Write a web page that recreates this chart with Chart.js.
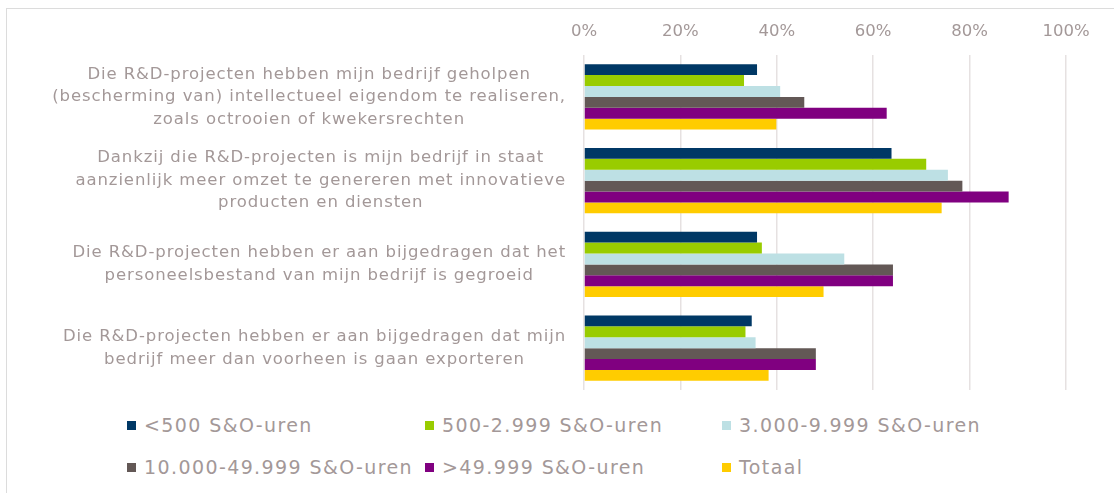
<!DOCTYPE html>
<html>
<head>
<meta charset="utf-8">
<title>R&D-projecten effecten</title>
<script src="https://cdn.jsdelivr.net/npm/chart.js@4"></script>
<style>
  body { margin: 0; background: #fff; font-family: "DejaVu Sans", Verdana, sans-serif; }
  #frame { position: absolute; left: 6px; top: 8px; width: 1120px; height: 500px; border: 1px solid #dcdcdc; box-sizing: border-box; }
  #wrap { position: absolute; left: 0; top: 0; width: 1114px; height: 400px; }
  #legend { position: absolute; left: 0; top: 400px; width: 1114px; height: 93px; }
  .item { position: absolute; display: flex; align-items: center; color: #a39898; font-size: 19px; letter-spacing: 1.4px; white-space: nowrap; }
  .box { width: 9px; height: 9px; margin-right: 8px; }
</style>
</head>
<body>
<div id="frame"></div>
<div id="wrap"><canvas id="chart"></canvas></div>
<div id="legend"></div>
<script>
  const categories = [
    ['Die R&D-projecten hebben mijn bedrijf geholpen', '(bescherming van) intellectueel eigendom te realiseren,', 'zoals octrooien of kwekersrechten'],
    ['Dankzij die R&D-projecten is mijn bedrijf in staat', 'aanzienlijk meer omzet te genereren met innovatieve', 'producten en diensten'],
    ['Die R&D-projecten hebben er aan bijgedragen dat het', 'personeelsbestand van mijn bedrijf is gegroeid'],
    ['Die R&D-projecten hebben er aan bijgedragen dat mijn', 'bedrijf meer dan voorheen is gaan exporteren']
  ];

  const seriesNames = ['<500 S&O-uren', '500-2.999 S&O-uren', '3.000-9.999 S&O-uren', '10.000-49.999 S&O-uren', '>49.999 S&O-uren', 'Totaal'];
  const seriesColors = ['#003865', '#99cc00', '#bde0e4', '#635856', '#800080', '#ffcc00'];

  const under500 = [35.9, 63.8, 35.9, 34.8];
  const from500 = [33.2, 71.0, 36.9, 33.5];
  const from3000 = [40.7, 75.5, 54.0, 35.6];
  const from10000 = [45.7, 78.5, 64.1, 48.1];
  const over49999 = [62.8, 88.1, 64.1, 48.1];
  const totaal = [39.9, 74.2, 49.7, 38.3];

  const xTicks = [0, 20, 40, 60, 80, 100];

  const textColor = '#a39898';
  const values = [under500, from500, from3000, from10000, over49999, totaal];

  // category labels: block right-aligned, each line centred inside its block
  const labelPlugin = {
    id: 'catLabels',
    afterDraw(chart) {
      const ctx = chart.ctx;
      const yScale = chart.scales.y;
      const rightEdge = 566;
      const lineH = 22.5;
      ctx.save();
      ctx.font = '16.5px "DejaVu Sans"';
      ctx.letterSpacing = '0.9px';
      ctx.fillStyle = textColor;
      ctx.textAlign = 'center';
      ctx.textBaseline = 'middle';
      chart.data.labels.forEach((lines, i) => {
        const y = yScale.getPixelForTick(i);
        const w = Math.max(...lines.map(l => ctx.measureText(l).width));
        const cx = rightEdge - w / 2;
        const y0 = y - (lines.length - 1) * lineH / 2;
        lines.forEach((l, j) => ctx.fillText(l, cx, y0 + j * lineH));
      });
      ctx.restore();
    }
  };

  const chart = new Chart(document.getElementById('chart'), {
    type: 'bar',
    data: {
      labels: categories,
      datasets: seriesNames.map((name, i) => ({
        label: name,
        data: values[i],
        backgroundColor: seriesColors[i],
        borderWidth: 0,
        categoryPercentage: 0.78,
        barPercentage: 1.0
      }))
    },
    options: {
      indexAxis: 'y',
      responsive: true,
      maintainAspectRatio: false,
      animation: false,
      layout: { padding: { left: 0, right: 48, top: 0, bottom: 10 } },
      plugins: {
        legend: { display: false },
        tooltip: { enabled: false }
      },
      scales: {
        x: {
          position: 'top',
          min: 0,
          max: 100,
          afterBuildTicks: (scale) => { scale.ticks = xTicks.map(v => ({ value: v })); },
          afterFit: (scale) => { scale.height = 55; },
          ticks: {
            callback: (v) => v + '%',
            color: textColor,
            font: { family: 'DejaVu Sans', size: 16.5 },
            padding: 13
          },
          grid: { color: '#e6e1e1', lineWidth: 1.5, drawTicks: false },
          border: { display: false }
        },
        y: {
          afterFit: (scale) => { scale.width = 584; },
          ticks: { display: false },
          grid: { display: false },
          border: { display: false }
        }
      }
    },
    plugins: [labelPlugin]
  });

  // HTML legend laid out in a 3x2 grid like the original
  const legendEl = document.getElementById('legend');
  const colX = [127, 425, 722];
  const rowY = [25, 67];
  chart.options.plugins.legend.labels.generateLabels(chart).forEach((item, i) => {
    const div = document.createElement('div');
    div.className = 'item';
    div.style.left = colX[i % 3] + 'px';
    div.style.top = (rowY[Math.floor(i / 3)] - 12) + 'px';
    div.style.height = '24px';
    const box = document.createElement('span');
    box.className = 'box';
    box.style.background = item.fillStyle;
    const txt = document.createElement('span');
    txt.textContent = item.text;
    div.appendChild(box);
    div.appendChild(txt);
    legendEl.appendChild(div);
  });
</script>
</body>
</html>
